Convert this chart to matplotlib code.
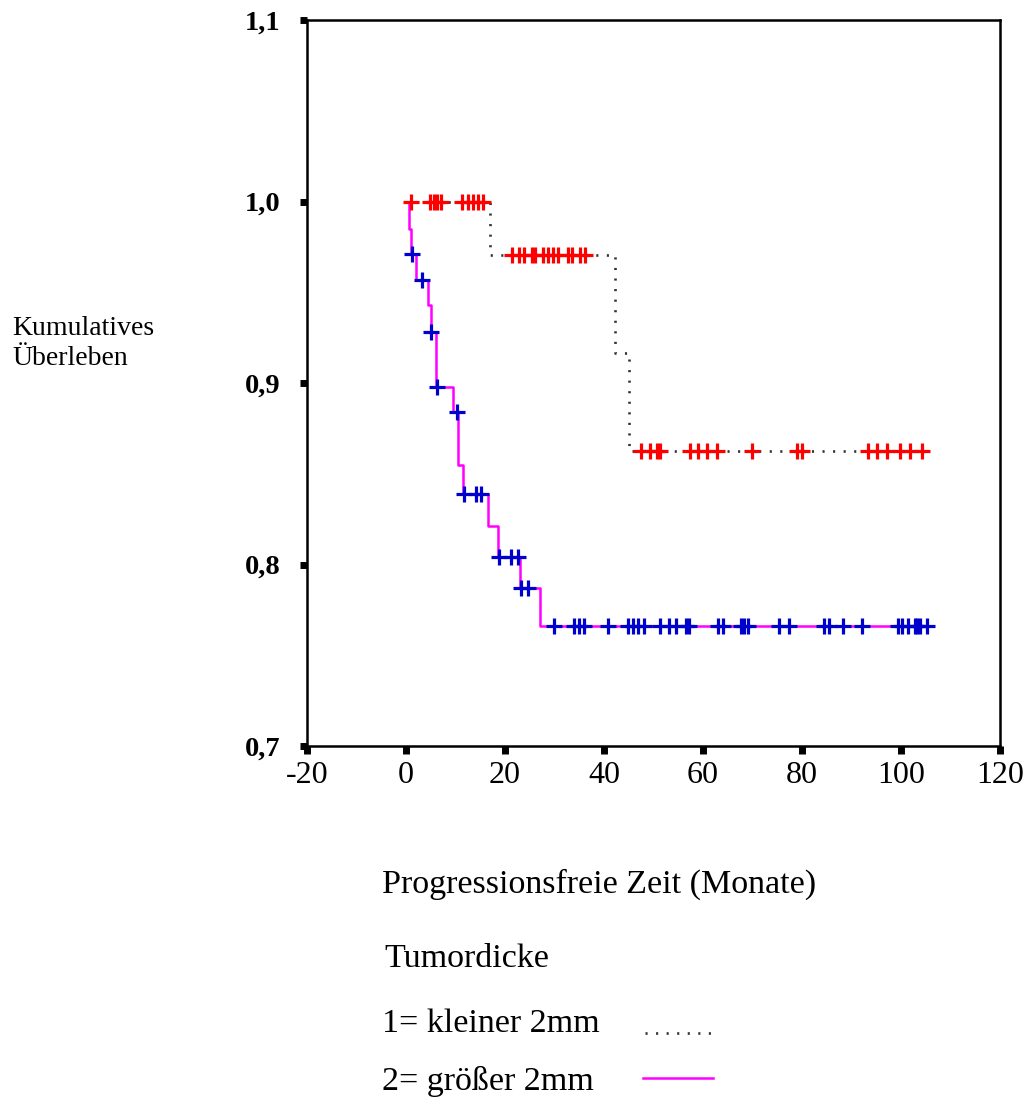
import numpy as np
import matplotlib
matplotlib.use("Agg")
import matplotlib.pyplot as plt

plt.rcParams['font.family'] = ['Liberation Serif', 'DejaVu Serif']

# Tumordicke 1 = kleiner 2mm: event times and survival after each step
g1_event_t = [17.0, 42.3, 45.0]
g1_surv = [0.9706, 0.9167, 0.8627]
g1_censor_t = [1.0, 4.9, 5.6, 6.3, 7.1, 11.4, 12.5, 13.5, 14.5, 15.5,
               21.5, 22.9, 23.8, 25.4, 26.0, 27.7, 28.7, 29.7, 30.7, 32.8, 33.5, 35.2, 36.2,
               47.4, 49.3, 50.7, 51.3, 57.4, 59.0, 60.8, 62.8, 69.9, 79.0, 80.0,
               93.3, 95.2, 97.2, 99.8, 101.8, 104.2]

# Tumordicke 2 = größer 2mm
g2_event_t = [0.6, 1.0, 2.0, 4.4, 5.0, 6.1, 9.5, 10.6, 11.6, 16.5, 18.6, 23.0, 27.1]
g2_surv = [0.985, 0.971, 0.957, 0.943, 0.928, 0.898, 0.884, 0.855, 0.839,
           0.821, 0.804, 0.787, 0.766]
g2_censor_t = [1.2, 3.2, 5.1, 6.3, 10.4, 11.8, 14.1, 15.1, 18.8, 21.2, 22.6, 23.3, 24.6,
               29.9, 33.9, 34.9, 35.9, 40.8, 44.8, 45.8, 46.8, 48.0, 51.4, 53.1, 54.5,
               56.6, 57.2, 63.0, 64.0, 67.6, 68.2, 69.0, 75.3, 77.3, 84.4, 85.4, 88.2,
               92.2, 99.3, 100.3, 101.5, 102.9, 103.3, 103.9, 105.3]

x_ticks = [-20, 0, 20, 40, 60, 80, 100, 120]
y_ticks = [0.7, 0.8, 0.9, 1.0, 1.1]
y_ticklabels = ['0,7', '0,8', '0,9', '1,0', '1,1']


def km_curve(event_t, surv, t_end):
    t = np.concatenate([[0.0], event_t, [t_end]])
    s = np.concatenate([[1.0], surv, [surv[-1]]])
    return t, s


def level_at(event_t, surv, times):
    idx = np.searchsorted(event_t, times, side='right')
    levels = np.concatenate([[1.0], surv])
    return levels[idx]


W, H = 1033, 1109
fig = plt.figure(figsize=(W / 100, H / 100), dpi=100)
ax = fig.add_axes([307 / W, 1 - 746 / H, (1000 - 307) / W, (746 - 20) / H])

t1, s1 = km_curve(g1_event_t, g1_surv, max(g1_censor_t))
t2, s2 = km_curve(g2_event_t, g2_surv, max(g2_censor_t))

dotted = (0, (0.8, 3.2))
ax.step(t1, s1, where='post', color='#333333', lw=1.9, linestyle=dotted)
ax.step(t2, s2, where='post', color='#ff00ff', lw=1.8)

ax.plot(g1_censor_t, level_at(g1_event_t, g1_surv, g1_censor_t), ls='none',
        marker='+', ms=11, mew=2.3, color='#ff0000')
ax.plot(g2_censor_t, level_at(g2_event_t, g2_surv, g2_censor_t), ls='none',
        marker='+', ms=12, mew=2.3, color='#0000cc')

ax.set_xlim(-20, 120)
ax.set_ylim(0.7, 1.1)
ax.set_xticks(x_ticks)
ax.set_xticklabels([str(v) for v in x_ticks], fontsize=23)
ax.set_yticks(y_ticks)
ax.set_yticklabels(y_ticklabels, fontsize=20.5, fontweight='bold')
ax.tick_params(axis='y', direction='out', length=5, width=5, color='black', pad=14)
ax.tick_params(axis='x', direction='out', length=6, width=5, color='black', pad=5)
for sp in ax.spines.values():
    sp.set_linewidth(1.8)

fig.text(12 / W, 1 - 335 / H, 'Kumulatives', fontsize=20, ha='left', va='baseline')
fig.text(12 / W, 1 - 365 / H, 'Überleben', fontsize=20, ha='left', va='baseline')

fig.text(382 / W, 1 - 893 / H, 'Progressionsfreie Zeit (Monate)', fontsize=24.5,
         ha='left', va='baseline')
fig.text(384 / W, 1 - 967 / H, 'Tumordicke', fontsize=24.5, ha='left', va='baseline')
fig.text(382 / W, 1 - 1032 / H, '1= kleiner 2mm', fontsize=24.5, ha='left', va='baseline')
fig.text(382 / W, 1 - 1090 / H, '2= größer 2mm', fontsize=24.5, ha='left', va='baseline')

# legend line samples
fig.add_artist(plt.Line2D([645 / W, 712 / W], [1 - 1033 / H, 1 - 1033 / H],
                          color='#333333', lw=1.9, linestyle=dotted))
fig.add_artist(plt.Line2D([643 / W, 713 / W], [1 - 1078 / H, 1 - 1078 / H],
                          color='#ff00ff', lw=1.8))

fig.savefig('out.png', dpi=100, facecolor='white')
